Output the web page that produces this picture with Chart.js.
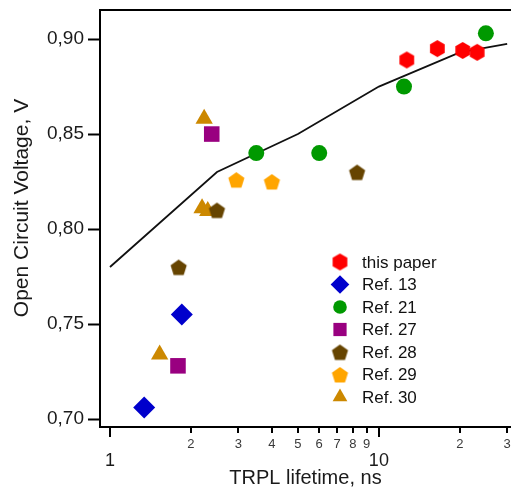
<!DOCTYPE html>
<html>
<head>
<meta charset="utf-8">
<script src="https://cdn.jsdelivr.net/npm/chart.js@4.4.0/dist/chart.umd.min.js"></script>
<style>
  html, body { margin: 0; padding: 0; background: #fff; }
  #wrap { width: 511px; height: 491px; }
</style>
</head>
<body>
<div id="wrap"><canvas id="voc"></canvas></div>
<script>
// --- Datos: TRPL lifetime (ns) vs Voc (V) ---
const seriesNames = ['this paper', 'Ref. 13', 'Ref. 21', 'Ref. 27', 'Ref. 28', 'Ref. 29', 'Ref. 30'];

const thisPaperX = [12.7, 16.5, 20.5, 23.2];
const thisPaperY = [0.889, 0.895, 0.894, 0.893];
const ref13X = [1.85, 1.34];
const ref13Y = [0.755, 0.706];
const ref21X = [3.5, 6.0, 12.4, 25.0];
const ref21Y = [0.840, 0.840, 0.875, 0.903];
const ref27X = [2.39, 1.79];
const ref27Y = [0.850, 0.728];
const ref28X = [8.3, 2.5, 1.8];
const ref28Y = [0.830, 0.810, 0.780];
const ref29X = [4.0, 2.95];
const ref29Y = [0.825, 0.826];
const ref30X = [2.24, 2.2, 2.31, 1.53];
const ref30Y = [0.858, 0.811, 0.8095, 0.734];

// curva del modelo
const modelX = [1, 2.5, 5, 10, 20, 30];
const modelY = [0.780, 0.830, 0.850, 0.875, 0.893, 0.8975];

const xTickValues = [1, 2, 3, 4, 5, 6, 7, 8, 9, 10, 20, 30];
const xTickLabels = ['1', '2', '3', '4', '5', '6', '7', '8', '9', '10', '2', '3'];
const xMajorTicks = [1, 10];
const yTickValues = [0.70, 0.75, 0.80, 0.85, 0.90];

const FONT = '"Liberation Sans", Arial, sans-serif';

// --- marcadores poligonales (hexágono / pentágono) ---
function polygonMarker(sides, radius, color) {
  const size = Math.ceil(radius * 2 + 2);
  const c = document.createElement('canvas');
  c.width = size; c.height = size;
  const g = c.getContext('2d');
  g.fillStyle = color;
  g.beginPath();
  for (let i = 0; i < sides; i++) {
    const a = -Math.PI / 2 + i * 2 * Math.PI / sides;
    const px = size / 2 + radius * Math.cos(a);
    const py = size / 2 + radius * Math.sin(a) + (sides === 5 ? 1 : 0);
    if (i === 0) g.moveTo(px, py); else g.lineTo(px, py);
  }
  g.closePath();
  g.fill();
  return c;
}

const hexRed = polygonMarker(6, 8.5, '#ff0000');
const pentBrown = polygonMarker(5, 8.5, '#664400');
const pentOrange = polygonMarker(5, 8.5, '#ffa500');

function pts(xs, ys) {
  return xs.map((x, i) => ({ x: x, y: ys[i] }));
}

const markerSets = [
  { data: pts(thisPaperX, thisPaperY), color: '#ff0000', style: hexRed, radius: 9 },
  { data: pts(ref13X, ref13Y), color: '#0000cc', style: 'rectRot', radius: 11 },
  { data: pts(ref21X, ref21Y), color: '#009900', style: 'circle', radius: 8 },
  { data: pts(ref27X, ref27Y), color: '#990080', style: 'rect', radius: 11 },
  { data: pts(ref28X, ref28Y), color: '#664400', style: pentBrown, radius: 9 },
  { data: pts(ref29X, ref29Y), color: '#ffa500', style: pentOrange, radius: 9 },
  { data: pts(ref30X, ref30Y), color: '#cc8800', style: 'triangle', radius: 10 }
];

const datasets = markerSets.map((s, i) => ({
  label: seriesNames[i],
  data: s.data,
  backgroundColor: s.color,
  borderColor: s.color,
  borderWidth: 0,
  pointStyle: s.style,
  pointRadius: s.radius,
  pointHoverRadius: s.radius,
  clip: false,
  order: 0
}));

datasets.push({
  label: 'model',
  data: pts(modelX, modelY),
  showLine: true,
  borderColor: '#111',
  borderWidth: 1.8,
  pointRadius: 0,
  fill: false,
  order: 1
});

// --- plugin: marco superior, ticks del eje x, título y y leyenda ---
const framePlugin = {
  id: 'frame',
  afterDraw(chart) {
    const ctx = chart.ctx;
    const area = chart.chartArea;
    const xs = chart.scales.x;
    ctx.save();
    ctx.strokeStyle = '#000';
    ctx.lineWidth = 2;
    ctx.beginPath();
    ctx.moveTo(area.left - 1, area.top);
    ctx.lineTo(chart.width, area.top);
    ctx.stroke();

    xTickValues.forEach(v => {
      const px = Math.round(xs.getPixelForValue(v));
      const len = xMajorTicks.includes(v) ? 10 : 6;
      ctx.beginPath();
      ctx.moveTo(px, area.bottom);
      ctx.lineTo(px, area.bottom + len);
      ctx.stroke();
    });

    // título del eje y (un poco por encima del centro, como el original)
    ctx.save();
    ctx.translate(22, 208);
    ctx.rotate(-Math.PI / 2);
    ctx.textAlign = 'center';
    ctx.textBaseline = 'middle';
    ctx.fillStyle = '#1a1a1a';
    ctx.font = '21px ' + FONT;
    ctx.fillText('Open Circuit Voltage, V', 0, 0);
    ctx.restore();

    // leyenda
    const lx = 340, ly = 262, step = 22.5;
    ctx.textBaseline = 'middle';
    ctx.textAlign = 'left';
    ctx.font = '17px ' + FONT;
    markerSets.forEach((s, i) => {
      const y = ly + i * step;
      ctx.fillStyle = s.color;
      Chart.helpers.drawPoint(ctx, {
        pointStyle: s.style,
        radius: s.radius * 0.85,
        rotation: 0,
        borderWidth: 0
      }, lx, y);
      ctx.fillStyle = '#111';
      ctx.fillText(seriesNames[i], lx + 22, y + 1);
    });
    ctx.restore();
  }
};

new Chart(document.getElementById('voc'), {
  type: 'scatter',
  data: { datasets: datasets },
  plugins: [framePlugin],
  options: {
    responsive: true,
    maintainAspectRatio: false,
    animation: false,
    events: [],
    layout: { autoPadding: false, padding: { top: 10, right: 0, left: 0, bottom: 0 } },
    plugins: { legend: { display: false }, tooltip: { enabled: false } },
    scales: {
      x: {
        type: 'logarithmic',
        min: 0.918,
        max: 31,
        afterFit: s => { s.height = 64; s.paddingLeft = 0; s.paddingRight = 0; },
        afterBuildTicks: s => { s.ticks = xTickValues.map(v => ({ value: v, major: xMajorTicks.includes(v) })); },
        border: { display: true, color: '#000', width: 2 },
        grid: { display: true, drawOnChartArea: false, drawTicks: true, tickLength: 10, tickColor: 'rgba(0,0,0,0)' },
        ticks: {
          autoSkip: false,
          maxRotation: 0,
          padding: 0,
          color: (c) => xMajorTicks.includes(c.tick.value) ? '#1a1a1a' : '#3a3a3a',
          font: (c) => xMajorTicks.includes(c.tick.value)
            ? { family: FONT, size: 18, lineHeight: 0.9 }
            : { family: FONT, size: 13 },
          callback: (v) => {
            const lbl = xTickLabels[xTickValues.indexOf(v)];
            return xMajorTicks.includes(v) ? ['', lbl] : lbl;
          }
        },
        title: {
          display: true,
          text: 'TRPL lifetime, ns',
          color: '#1a1a1a',
          font: { family: FONT, size: 20 },
          padding: { top: 0, bottom: 1 }
        }
      },
      y: {
        min: 0.6958,
        max: 0.9153,
        afterFit: s => { s.width = 100; s.paddingTop = 0; s.paddingBottom = 0; },
        afterBuildTicks: s => { s.ticks = yTickValues.map(v => ({ value: v })); },
        border: { display: true, color: '#000', width: 2 },
        grid: { display: true, drawOnChartArea: false, tickLength: 12, tickWidth: 2, tickColor: '#000' },
        ticks: {
          padding: 4,
          color: '#1a1a1a',
          font: { family: FONT, size: 19 },
          callback: (v) => v.toFixed(2).replace('.', ',')
        },
        title: { display: false }
      }
    }
  }
});
</script>
</body>
</html>
